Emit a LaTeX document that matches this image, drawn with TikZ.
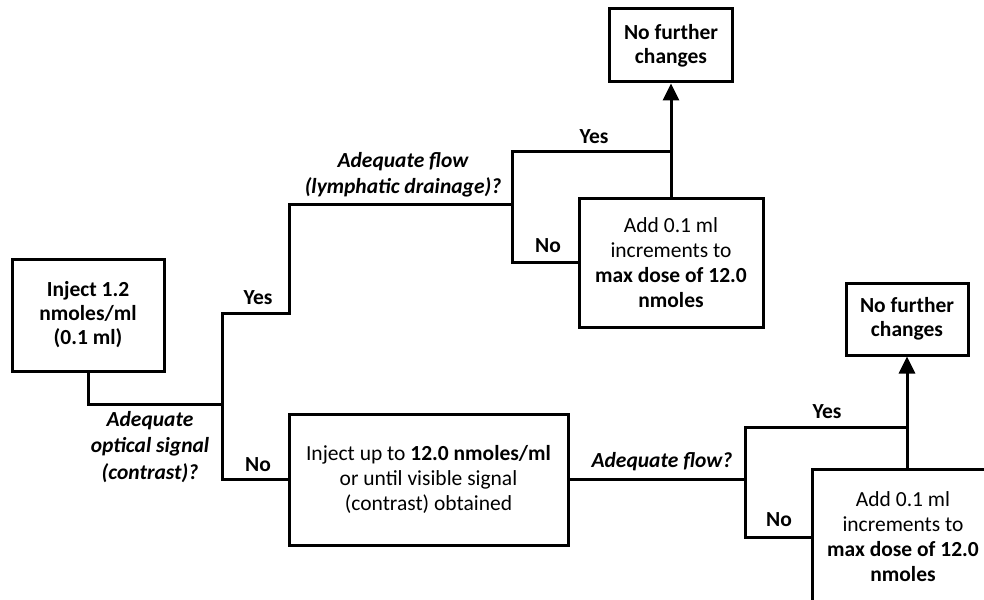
\documentclass[tikz,border=0pt]{standalone}
\usepackage{fontspec}
\setmainfont{Carlito}
\usetikzlibrary{arrows.meta}
\tikzset{
  box/.style={draw=black, line width=3pt, align=center, inner sep=2pt, font=\fontsize{21.5}{25}\selectfont},
  bbox/.style={box, font=\fontsize{21.5}{24}\selectfont\bfseries},
  lbl/.style={font=\fontsize{21.5}{25}\selectfont\bfseries, inner sep=0pt},
  qlbl/.style={font=\fontsize{21.5}{26.5}\selectfont\bfseries\itshape, align=center, inner sep=0pt},
  conn/.style={line width=3pt, line cap=rect},
  arr/.style={line width=3pt, -{Triangle[length=17pt,width=16pt]}}
}
\begin{document}
\begin{tikzpicture}[x=1pt,y=-1pt]
\useasboundingbox (0,0) rectangle (984,599);
\clip (0,0) rectangle (984,599);
% boxes
\node[bbox, minimum width=152pt, minimum height=112pt] (inj) at (88,315) {Inject 1.2\\nmoles/ml\\(0.1 ml)};
\node[bbox, minimum width=123pt, minimum height=73pt] (nf1) at (671,45.5) {No further\\changes};
\node[box, minimum width=184pt, minimum height=129pt] (add1) at (671,262.5) {Add 0.1 ml\\increments to\\\textbf{max dose of 12.0}\\\textbf{nmoles}};
\node[box, minimum width=279pt, minimum height=131pt] (injup) at (428.5,479.5) {Inject up to \textbf{12.0 nmoles/ml}\\or until visible signal\\(contrast) obtained};
\node[bbox, minimum width=122pt, minimum height=72pt] (nf2) at (907,319) {No further\\changes};
\node[box, minimum width=182pt, minimum height=136pt] (add2) at (903,537) {Add 0.1 ml\\increments to\\\textbf{max dose of 12.0}\\\textbf{nmoles}};
% junction coordinates
\coordinate (t1) at (222,404);
\coordinate (tY) at (222,313);
\coordinate (tN) at (222,479.5);
\coordinate (u1) at (289,313);
\coordinate (u2) at (289,204);
\coordinate (f1) at (512,204);
\coordinate (fY) at (512,151);
\coordinate (fN) at (512,262.5);
\coordinate (j1) at (671,151);
\coordinate (g1) at (745,479.5);
\coordinate (gY) at (745,427);
\coordinate (gN) at (745,537);
\coordinate (j2) at (907,427);
% connectors
\draw[conn] (inj.south) |- (t1);
\draw[conn] (tY) -- (tN);
\draw[conn] (tY) -- (u1) -- (u2) -- (f1);
\draw[conn] (fY) -- (fN);
\draw[conn] (fY) -- (j1);
\draw[conn] (fN) -- (add1.west);
\draw[arr] (add1.north) -- (nf1.south);
\draw[conn] (tN) -- (injup.west);
\draw[conn] (injup.east) -- (g1);
\draw[conn] (gY) -- (gN);
\draw[conn] (gY) -- (j2);
\draw[conn] (gN) -- (add2.west);
\draw[arr] (nf2.south |- add2.north) -- (nf2.south);
% labels
\node[lbl] (y1) at (258,298) {Yes};
\node[lbl] (n1) at (258,465) {No};
\node[qlbl] (q1) at (150,447) {Adequate\\optical signal\\(contrast)?};
\node[qlbl] (q2) at (403,175) {Adequate flow\\(lymphatic drainage)?};
\node[lbl] (y2) at (594,137) {Yes};
\node[lbl] (n2) at (548,246) {No};
\node[qlbl] (q3) at (662,462) {Adequate flow?};
\node[lbl] (y3) at (827,412) {Yes};
\node[lbl] (n3) at (779,520) {No};
\end{tikzpicture}
\end{document}
